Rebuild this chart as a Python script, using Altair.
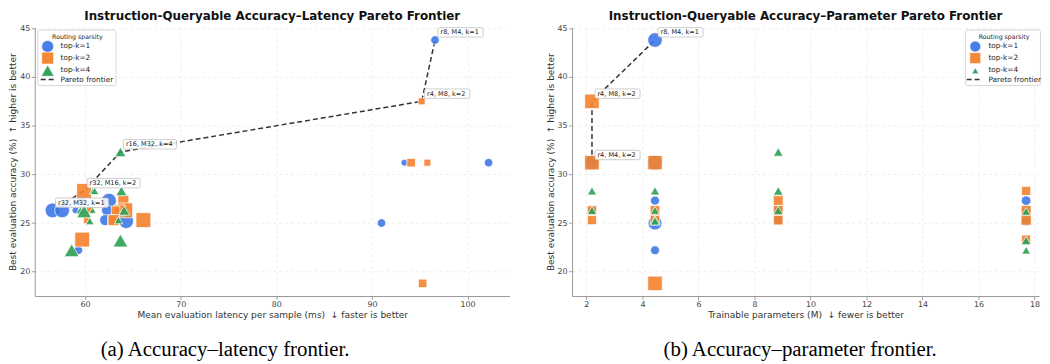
import altair as alt
import pandas as pd

# ---------------- data ----------------
topk = [1, 1, 1, 1, 1, 1, 1, 1, 1, 1, 1, 1, 1,
        2, 2, 2, 2, 2, 2, 2, 2, 2, 2, 2, 2, 2, 2, 2,
        4, 4, 4, 4, 4, 4, 4, 4, 4, 4, 4, 4]
latency_ms = [96.6, 93.4, 102.2, 91.0, 56.6, 57.6, 62.5, 62.3, 62.1, 64.3, 59.3, 59.0, 59.6,
              95.2, 95.8, 94.1, 95.3, 59.9, 64.0, 64.2, 63.6, 60.5, 63.2, 60.2, 62.8, 63.0, 66.1, 59.7,
              63.7, 60.8, 61.0, 63.8, 60.8, 59.5, 64.1, 59.9, 63.5, 60.5, 63.7, 58.6]
params_m = [4.45, 2.2, 4.45, 4.45, 17.7, 17.7, 17.7, 8.85, 8.85, 17.7, 4.45, 2.2, 4.45,
            2.2, 2.2, 4.45, 4.45, 17.7, 8.85, 17.7, 8.85, 2.2, 4.45, 2.2, 4.45, 8.85, 17.7, 17.7,
            8.85, 2.2, 4.45, 8.85, 2.2, 4.45, 8.85, 17.7, 4.45, 4.45, 17.7, 17.7]
accuracy = [43.8, 31.2, 31.2, 25.0, 26.3, 26.3, 27.3, 26.3, 25.3, 25.2, 22.2, 26.3, 27.3,
            37.5, 31.2, 31.2, 18.8, 28.3, 27.3, 26.3, 26.3, 26.3, 26.3, 25.3, 25.3, 25.3, 25.3, 23.3,
            32.3, 28.3, 28.3, 28.3, 26.3, 26.3, 26.3, 26.2, 25.3, 25.2, 23.2, 22.2]
label_latency = ["r8, M4, k=1", "", "", "", "r32, M32, k=1", "", "", "", "", "", "", "", "",
                 "r4, M8, k=2", "", "", "", "r32, M16, k=2", "", "", "", "", "", "", "", "", "", "",
                 "r16, M32, k=4", "", "", "", "", "", "", "", "", "", "", ""]
label_params = ["r8, M4, k=1", "", "", "", "", "", "", "", "", "", "", "", "",
                "r4, M8, k=2", "r4, M4, k=2", "", "", "", "", "", "", "", "", "", "", "", "", "",
                "", "", "", "", "", "", "", "", "", "", "", ""]

k_levels = [1, 2, 4]
k_names = ["top-k=1", "top-k=2", "top-k=4"]
k_colors = ["#3f78e6", "#f5822d", "#2ca055"]
k_shapes = ["circle", "square", "triangle-up"]
y_ticks = [20, 25, 30, 35, 40, 45]
lat_ticks = [60, 70, 80, 90, 100]
par_ticks = [2, 4, 6, 8, 10, 12, 14, 16, 18]

df = pd.DataFrame(dict(k=topk, latency=latency_ms, params=params_m, acc=accuracy,
                       lab_a=label_latency, lab_b=label_params))


def box_path(text):
    w = 4.0 * len(text) + 1.5
    x0, x1, y0, y1, r = 3.0, 3.0 + w, -12.5, -3.0, 1.5
    return (f"M{x0+r},{y0} L{x1-r},{y0} Q{x1},{y0} {x1},{y0+r} L{x1},{y1-r} "
            f"Q{x1},{y1} {x1-r},{y1} L{x0+r},{y1} Q{x0},{y1} {x0},{y1-r} "
            f"L{x0},{y0+r} Q{x0},{y0} {x0+r},{y0} Z")


df["box_a"] = [box_path(t) if t else "" for t in df.lab_a]
df["box_b"] = [box_path(t) if t else "" for t in df.lab_b]

one = pd.DataFrame({"o": [0]})
FONT = "DejaVu Sans"


def panel(xfield, xdomain, xticks, xtitle, sfield, sdomain, srange, lab, box, title,
          caption, cap_x, W, H, leg):
    xenc = alt.X(f"{xfield}:Q", scale=alt.Scale(domain=xdomain, nice=False, zero=False),
                 axis=alt.Axis(values=xticks, title=xtitle, format="d"))
    yenc = alt.Y("acc:Q", scale=alt.Scale(domain=[17.5, 45.1], nice=False, zero=False),
                 axis=alt.Axis(values=y_ticks, title="Best evaluation accuracy (%) \u00a0\u2191 higher is better"))
    front = alt.Chart(df).transform_filter(f"datum.{lab} != ''").mark_line(
        color="#333333", strokeDash=[5, 3], strokeWidth=1.5).encode(x=xenc, y=yenc, order="acc:Q")
    pts = alt.Chart(df).mark_point(filled=True, opacity=0.9, stroke="white", strokeWidth=0.8).encode(
        x=xenc, y=yenc,
        color=alt.Color("k:N", scale=alt.Scale(domain=k_levels, range=k_colors), legend=None),
        shape=alt.Shape("k:N", scale=alt.Scale(domain=k_levels, range=k_shapes), legend=None),
        size=alt.Size(f"{sfield}:Q", scale=alt.Scale(domain=sdomain, range=srange, zero=False), legend=None),
    )
    boxes = alt.Chart(df).transform_filter(f"datum.{lab} != ''").mark_point(
        filled=True, fill="white", fillOpacity=0.85, stroke="#b8b8b8", strokeWidth=0.7,
        strokeOpacity=1, size=4, opacity=1).encode(
        x=xenc, y=yenc, shape=alt.Shape(f"{box}:N", scale=None, legend=None))
    texts = alt.Chart(df).transform_filter(f"datum.{lab} != ''").mark_text(
        align="left", baseline="middle", dx=5.5, dy=-7.7, fontSize=6.6, font=FONT, color="#222222").encode(
        x=xenc, y=yenc, text=f"{lab}:N")

    # legend (decoration)
    bx0, bx1, sx, tx, tcx, dx0, dx1, ssz, tsz = leg
    layers = [front, pts, boxes, texts]
    layers.append(alt.Chart(one).mark_rect(fill="white", fillOpacity=0.9, stroke="#cccccc",
                                           strokeWidth=0.8, cornerRadius=2).encode(
        x=alt.value(bx0), x2=alt.value(bx1), y=alt.value(2.7), y2=alt.value(58.7)))
    layers.append(alt.Chart(one).mark_text(fontSize=6.3, font=FONT, color="#222", align="center",
                                           baseline="middle").encode(
        x=alt.value(tcx), y=alt.value(9.3), text=alt.value("Routing sparsity")))
    for i, (nm, c, s) in enumerate(zip(k_names, k_colors, k_shapes)):
        yy = [19.3, 31.0, 42.7][i]
        sz = tsz if s == "triangle-up" else ssz
        layers.append(alt.Chart(one).mark_point(filled=True, shape=s, color=c, opacity=0.95,
                                                size=sz, stroke="white", strokeWidth=0.6).encode(
            x=alt.value(sx), y=alt.value(yy + (1.0 if s == "triangle-up" else 0))))
        layers.append(alt.Chart(one).mark_text(fontSize=7.4, font=FONT, color="#222", align="left",
                                               baseline="middle").encode(
            x=alt.value(tx), y=alt.value(yy), text=alt.value(nm)))
    layers.append(alt.Chart(one).mark_rule(color="#333333", strokeDash=[5, 3], strokeWidth=1.5).encode(
        x=alt.value(dx0), x2=alt.value(dx1), y=alt.value(52.7)))
    layers.append(alt.Chart(one).mark_text(fontSize=7.4, font=FONT, color="#222", align="left",
                                           baseline="middle").encode(
        x=alt.value(tx), y=alt.value(52.7), text=alt.value("Pareto frontier")))
    layers.append(alt.Chart(one).mark_text(fontSize=21, font="Liberation Serif", color="#000",
                                           align="center", baseline="middle").encode(
        x=alt.value(cap_x), y=alt.value(H + 54), text=alt.value(caption)))

    return alt.layer(*layers).properties(
        width=W, height=H,
        title=alt.TitleParams(title, fontSize=12, font=FONT, fontWeight="bold", color="#111",
                              anchor="middle", offset=1))


left = panel("latency", [54.74, 104.4], lat_ticks,
             "Mean evaluation latency per sample (ms) \u00a0\u2193 faster is better",
             "params", [2.2, 17.7], [49, 225], "lab_a", "box_a",
             "Instruction-Queryable Accuracy\u2013Latency Pareto Frontier",
             "(a) Accuracy\u2013latency frontier.", 192, 479, 271,
             (3, 82, 13, 26, 43, 6, 20, 144, 169))
right = panel("params", [1.49, 18.16], par_ticks,
              "Trainable parameters (M) \u00a0\u2193 fewer is better",
              "latency", [56, 102.2], [70, 240], "lab_b", "box_b",
              "Instruction-Queryable Accuracy\u2013Parameter Pareto Frontier",
              "(b) Accuracy\u2013parameter frontier.", 230, 471, 271,
              (396.7, 472.4, 406.7, 420, 435.7, 398, 412.4, 121, 49))

chart = alt.hconcat(left, right, spacing=36).resolve_scale(
    size="independent", color="independent", shape="independent"
).properties(
    padding={"left": 0, "top": 0, "right": 0, "bottom": 0}
).configure_view(stroke=None).configure_axis(
    labelFont=FONT, labelFontSize=8, labelColor="#444444", labelPadding=1.5,
    titleFont=FONT, titleFontSize=9.1, titleColor="#333333", titleFontWeight="normal",
    tickColor="#888888", tickSize=3.5, tickWidth=0.8,
    domainColor="#999999", domainWidth=1,
    gridColor="#e6e6e6", gridDash=[3, 3], gridWidth=0.7,
).configure_axisX(titlePadding=2).configure_axisY(titlePadding=2)

chart.save("out.html", embed_options={"renderer": "svg", "actions": False})
